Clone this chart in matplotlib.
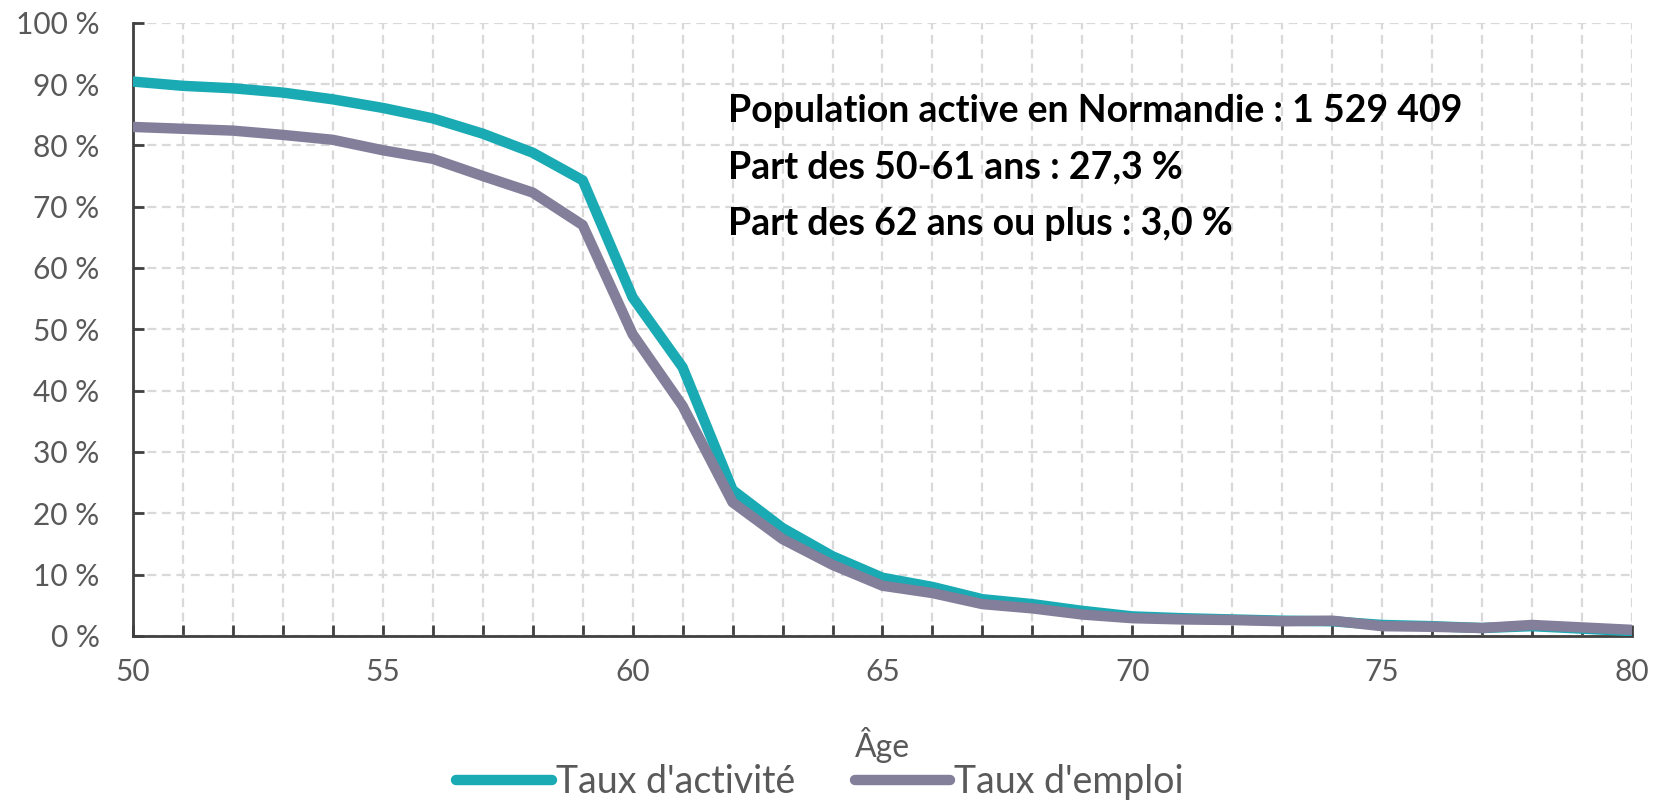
import matplotlib
matplotlib.use("Agg")
import matplotlib.pyplot as plt
from matplotlib.ticker import FuncFormatter, MultipleLocator

ages = list(range(50, 81))
taux_activite = [90.4, 89.7, 89.3, 88.6, 87.5, 86.1, 84.4, 81.9, 78.8, 74.3,
                 55.2, 43.8, 23.8, 17.6, 13.0, 9.5, 8.0, 6.0, 5.2, 4.1,
                 3.2, 2.9, 2.7, 2.5, 2.4, 1.8, 1.6, 1.3, 1.6, 1.2, 0.8]
taux_emploi = [83.0, 82.7, 82.4, 81.7, 80.9, 79.2, 77.8, 75.0, 72.3, 67.0,
               49.2, 37.5, 21.8, 15.8, 11.6, 8.2, 7.0, 5.2, 4.5, 3.5,
               2.9, 2.7, 2.6, 2.4, 2.5, 1.6, 1.5, 1.3, 1.8, 1.4, 1.0]
annotation_lines = ["Population active en Normandie : 1 529 409",
                    "Part des 50-61 ans : 27,3 %",
                    "Part des 62 ans ou plus : 3,0 %"]

teal = "#19AAB3"
grey = "#837E9A"
tick_grey = "#595959"

plt.rcParams["font.family"] = ["Lato", "DejaVu Sans"]

fig = plt.figure(figsize=(16.58, 8.01), dpi=100)
ax = fig.add_axes([0.0802, 0.206, 0.9041, 0.7657])

ax.plot(ages, taux_activite, color=teal, lw=7.5, solid_capstyle="round",
        label="Taux d'activité", zorder=3)
ax.plot(ages, taux_emploi, color=grey, lw=7.5, solid_capstyle="round",
        label="Taux d'emploi", zorder=4)

ax.set_xlim(50, 80)
ax.set_ylim(0, 100)
ax.xaxis.set_major_locator(MultipleLocator(5))
ax.xaxis.set_minor_locator(MultipleLocator(1))
ax.yaxis.set_major_locator(MultipleLocator(10))
ax.yaxis.set_major_formatter(FuncFormatter(lambda v, p: f"{int(v)} %"))

ax.grid(True, which="both", axis="x", color="#D9D9D9", linestyle=(0, (4, 2.5)), lw=1.6)
ax.grid(True, which="major", axis="y", color="#D9D9D9", linestyle=(0, (4, 2.5)), lw=1.6)
ax.set_axisbelow(True)

for side in ["top", "right"]:
    ax.spines[side].set_visible(False)
for side in ["left", "bottom"]:
    ax.spines[side].set_color("#404040")
    ax.spines[side].set_linewidth(2)

ax.tick_params(axis="both", which="both", direction="in", color="#404040", width=2)
ax.tick_params(axis="x", which="both", length=8)
ax.tick_params(axis="y", length=8)
ax.tick_params(axis="both", labelsize=21.5, labelcolor=tick_grey)
ax.tick_params(axis="x", pad=16)
ax.tick_params(axis="y", pad=24)

ax.set_xlabel("Âge", fontsize=23, color=tick_grey)
ax.xaxis.set_label_coords(0.5, -0.178)
ax.xaxis.label.set_verticalalignment("center")

for i, line in enumerate(annotation_lines):
    ax.text(61.9, 85.6 - i * 9.2, line, fontsize=27, fontweight="bold",
            color="black", va="center", ha="left", zorder=5)

fig.legend(loc="center", bbox_to_anchor=(0.4945, 0.024), ncol=2, frameon=False,
           fontsize=27, handlelength=2.55, handletextpad=0.1, columnspacing=1.6,
           labelcolor=tick_grey)

fig.savefig("out.png", dpi=100)
